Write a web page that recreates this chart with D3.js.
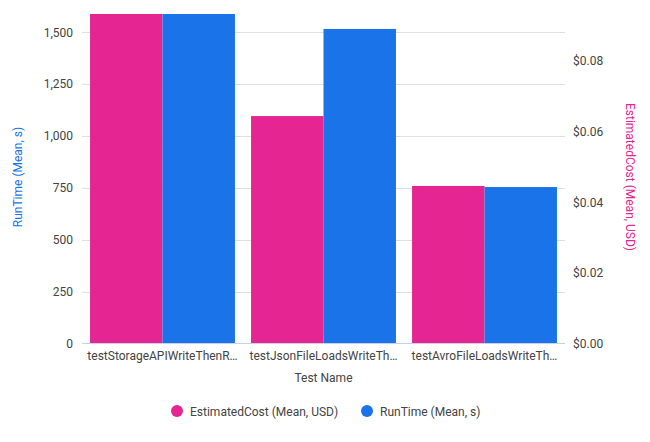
<!DOCTYPE html>
<html><head><meta charset="utf-8">
<script src="https://cdn.jsdelivr.net/npm/d3@7"></script>
<style>body{margin:0;background:#fff;font-family:Roboto,sans-serif}</style>
</head><body>
<svg id="c" width="650" height="442"></svg>
<script>
const categories = ["testStorageAPIWriteThenR…","testJsonFileLoadsWriteTh…","testAvroFileLoadsWriteTh…"];
const seriesNames = ["EstimatedCost (Mean, USD)","RunTime (Mean, s)"];
const estimatedCost = [0.0935, 0.0644, 0.0446];
const runTime = [1590, 1516, 754];
const leftTicks = [0,250,500,750,1000,1250,1500];
const rightTicks = [0,0.02,0.04,0.06,0.08];
const colors = ["#e52592","#1a73e8"];

const svg = d3.select("#c");
const L=82, R=565, T=14, B=343.5;
const x = d3.scaleBand().domain(categories).range([L,R]).paddingInner(0.1).paddingOuter(0.05);
const xs = d3.scaleBand().domain([0,1]).range([0,x.bandwidth()]);
const yL = d3.scaleLinear().domain([0,1588]).range([B,T]);
const yR = d3.scaleLinear().domain([0,0.0933]).range([B,T]);

svg.append("defs").append("clipPath").attr("id","clip").append("rect")
  .attr("x",L).attr("y",T).attr("width",R-L).attr("height",B-T);

// gridlines
svg.append("g").selectAll("line").data(leftTicks.slice(1)).join("line")
  .attr("x1",L).attr("x2",R).attr("y1",d=>Math.round(yL(d))+0.5).attr("y2",d=>Math.round(yL(d))+0.5)
  .attr("stroke","#e0e0e0");

const g = svg.append("g").attr("clip-path","url(#clip)");
g.selectAll("rect.c").data(estimatedCost).join("rect")
  .attr("x",(d,i)=>x(categories[i])+xs(0)).attr("width",xs.bandwidth())
  .attr("y",d=>yR(d)).attr("height",d=>B-yR(d)).attr("fill",colors[0]);
g.selectAll("rect.r").data(runTime).join("rect")
  .attr("x",(d,i)=>x(categories[i])+xs(1)).attr("width",xs.bandwidth())
  .attr("y",d=>yL(d)).attr("height",d=>B-yL(d)).attr("fill",colors[1]);

// baseline
svg.append("line").attr("x1",L).attr("x2",R).attr("y1",B).attr("y2",B).attr("stroke","#c6d2e6");

const fmtL = d3.format(",");
const yAxisL = d3.axisLeft(yL).tickValues(leftTicks).tickFormat(fmtL).tickSize(0).tickPadding(9);
const gl = svg.append("g").attr("transform",`translate(${L},0)`).call(yAxisL);
gl.select(".domain").remove();
gl.selectAll("text").attr("font-family","Roboto").attr("font-size",12).attr("fill","#444");

const yAxisR = d3.axisRight(yR).tickValues(rightTicks).tickFormat(d=>"$"+d3.format(".2f")(d)).tickSize(0).tickPadding(8);
const gr = svg.append("g").attr("transform",`translate(${R},0)`).call(yAxisR);
gr.select(".domain").remove();
gr.selectAll("text").attr("font-family","Roboto").attr("font-size",12).attr("fill","#444");

const xAxis = d3.axisBottom(x).tickSize(0).tickPadding(8);
const gx = svg.append("g").attr("transform",`translate(0,${B})`).call(xAxis);
gx.select(".domain").remove();
gx.selectAll("text").attr("font-family","Roboto").attr("font-size",12).attr("fill","#444");

svg.append("text").attr("x",(L+R)/2).attr("y",382).attr("text-anchor","middle")
  .attr("font-family","Roboto").attr("font-size",12).attr("fill","#444").text("Test Name");

svg.append("text").attr("transform","translate(22,177) rotate(-90)").attr("text-anchor","middle")
  .attr("font-family","Roboto").attr("font-size",12).attr("fill",colors[1]).text("RunTime (Mean, s)");
svg.append("text").attr("transform","translate(626,177) rotate(90)").attr("text-anchor","middle")
  .attr("font-family","Roboto").attr("font-size",12).attr("fill",colors[0]).text("EstimatedCost (Mean, USD)");

// legend
const legX = [177, 367];
const lg = svg.append("g").selectAll("g").data(seriesNames).join("g")
  .attr("transform",(d,i)=>`translate(${legX[i]},411)`);
lg.append("circle").attr("r",6).attr("fill",(d,i)=>colors[i]);
lg.append("text").attr("x",13).attr("y",4.5).attr("font-family","Roboto").attr("font-size",12)
  .attr("fill","#444").text(d=>d);
</script>
</body></html>
